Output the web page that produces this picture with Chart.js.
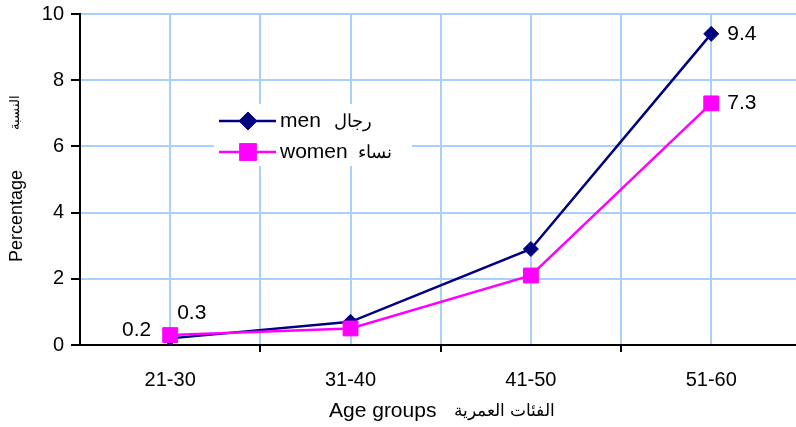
<!DOCTYPE html>
<html>
<head>
<meta charset="utf-8">
<script src="https://cdn.jsdelivr.net/npm/chart.js@4.4.1/dist/chart.umd.min.js"></script>
<style>
  html, body { margin: 0; padding: 0; background: #fff; overflow: hidden; }
  #wrap { width: 796px; height: 427px; position: relative; }
  #chart { display: block; }
</style>
</head>
<body>
<div id="wrap"><canvas id="chart"></canvas></div>
<script>
// ===== DATA =====
var ageGroups = ['21-30', '31-40', '41-50', '51-60'];
var menValues = [0.2, 0.7, 2.9, 9.4];
var womenValues = [0.3, 0.5, 2.1, 7.3];
var yTicks = [0, 2, 4, 6, 8, 10];
var menName = 'men';
var menArabic = 'رجال';
var womenName = 'women';
var womenArabic = 'نساء';
var xTitleEn = 'Age groups';
var xTitleAr = 'الفئات العمرية';
var yTitleEn = 'Percentage';
var yTitleAr = 'النسبة';

var FONT = 'Arial, "Liberation Sans", sans-serif';
var NAVY = '#000080';
var MAGENTA = '#ff00ff';
var GRID = '#a8d0fb';
var X_MAX = 3.47;

function toPoints(vals) {
  return vals.map(function(v, i) { return { x: i, y: v }; });
}

function noPad(s) {
  s.paddingTop = 0; s.paddingBottom = 0; s.paddingLeft = 0; s.paddingRight = 0;
}

// ===== PLUGINS =====
// value labels on first and last points
var valueLabels = {
  id: 'valueLabels',
  afterDatasetsDraw: function(chart) {
    var ctx = chart.ctx;
    ctx.save();
    ctx.font = '21px ' + FONT;
    ctx.fillStyle = '#000';
    ctx.textBaseline = 'middle';
    chart.data.datasets.forEach(function(ds, di) {
      var meta = chart.getDatasetMeta(di);
      var last = meta.data.length - 1;
      var first = meta.data[0];
      var end = meta.data[last];
      var fv = ds.data[0].y, lv = ds.data[last].y;
      if (ds.key === 'men') {
        ctx.textAlign = 'right';
        ctx.fillText(String(fv), first.x - 19, first.y - 8);
      } else {
        ctx.textAlign = 'left';
        ctx.fillText(String(fv), first.x + 7, first.y - 22);
      }
      ctx.textAlign = 'left';
      ctx.fillText(String(lv), end.x + 16, end.y);
    });
    ctx.restore();
  }
};

// legend box inside the plot + axis titles
var extras = {
  id: 'extras',
  afterDraw: function(chart) {
    var ctx = chart.ctx;
    var a = chart.chartArea;
    ctx.save();

    // legend
    var lx = a.left + 134, ly = a.top + 90;
    ctx.fillStyle = '#fff';
    ctx.fillRect(lx, ly, 198, 62);
    var rows = [
      { ds: 1, en: menName, ar: menArabic, y: ly + 17, gap: 13 },
      { ds: 0, en: womenName, ar: womenArabic, y: ly + 48, gap: 10 }
    ];
    rows.forEach(function(r) {
      var ds = chart.data.datasets[r.ds];
      ctx.strokeStyle = ds.borderColor;
      ctx.lineWidth = 2.5;
      ctx.beginPath();
      ctx.moveTo(lx + 5, r.y);
      ctx.lineTo(lx + 62, r.y);
      ctx.stroke();
      Chart.helpers.drawPoint(ctx, {
        pointStyle: ds.pointStyle, radius: ds.pointRadius, borderWidth: 1, rotation: 0
      }, lx + 34, r.y);
      ctx.fillStyle = ds.pointBackgroundColor;
      ctx.strokeStyle = ds.pointBorderColor;
      ctx.fill();
      ctx.stroke();
      ctx.fillStyle = '#000';
      ctx.textBaseline = 'middle';
      ctx.textAlign = 'left';
      ctx.font = '21px ' + FONT;
      ctx.fillText(r.en, lx + 66, r.y);
      var w = ctx.measureText(r.en).width;
      ctx.font = '18px ' + FONT;
      ctx.fillText(r.ar, lx + 66 + w + r.gap, r.y + 1);
    });

    // x title
    ctx.fillStyle = '#000';
    ctx.textBaseline = 'middle';
    ctx.textAlign = 'left';
    ctx.font = '21px ' + FONT;
    ctx.fillText(xTitleEn, 329, 411);
    var xw = ctx.measureText(xTitleEn).width;
    ctx.font = '17px ' + FONT;
    ctx.fillText(xTitleAr, 329 + xw + 18, 411);

    // y title (rotated)
    ctx.translate(17, 262);
    ctx.rotate(-Math.PI / 2);
    ctx.font = '18px ' + FONT;
    ctx.fillText(yTitleEn, 0, 0);
    ctx.font = '13px ' + FONT;
    ctx.fillText(yTitleAr, 132, -2);
    ctx.restore();
  }
};

// ===== CHART =====
var chart = new Chart(document.getElementById('chart'), {
  type: 'line',
  data: {
    datasets: [
      {
        key: 'women',
        label: womenName,
        data: toPoints(womenValues),
        borderColor: MAGENTA,
        backgroundColor: MAGENTA,
        borderWidth: 2.5,
        pointStyle: 'rect',
        pointRadius: 10.5,
        pointBackgroundColor: MAGENTA,
        pointBorderColor: MAGENTA,
        pointBorderWidth: 1,
        tension: 0,
        clip: false,
        order: 0
      },
      {
        key: 'men',
        label: menName,
        data: toPoints(menValues),
        borderColor: NAVY,
        backgroundColor: NAVY,
        borderWidth: 2.5,
        pointStyle: 'rectRot',
        pointRadius: 7.5,
        pointBackgroundColor: NAVY,
        pointBorderColor: NAVY,
        pointBorderWidth: 1,
        tension: 0,
        clip: false,
        order: 1
      }
    ]
  },
  options: {
    responsive: true,
    maintainAspectRatio: false,
    animation: false,
    events: [],
    layout: { autoPadding: false, padding: { top: 14, right: 0, left: 0, bottom: 0 } },
    plugins: {
      legend: { display: false },
      tooltip: { enabled: false }
    },
    scales: {
      x: {
        type: 'linear',
        min: -0.5,
        max: X_MAX,
        afterBuildTicks: function(s) {
          var t = [];
          for (var v = -0.5; v <= X_MAX; v += 0.5) t.push({ value: v });
          s.ticks = t;
        },
        afterFit: function(s) { s.height = 82; noPad(s); },
        border: { color: '#000', width: 2 },
        grid: {
          color: function(c) { return c.tick && c.tick.value === -0.5 ? 'rgba(0,0,0,0)' : GRID; },
          lineWidth: 2,
          tickLength: 7,
          tickWidth: 2,
          tickColor: function(c) {
            var v = c.tick ? c.tick.value : 0;
            return (Math.round(v * 2) % 2 !== 0 && v > -0.5) ? '#000' : 'rgba(0,0,0,0)';
          }
        },
        ticks: {
          autoSkip: false,
          maxRotation: 0,
          padding: 16,
          color: '#000',
          font: { size: 20, family: FONT },
          callback: function(v) {
            return Number.isInteger(v) ? ageGroups[v] : '';
          }
        }
      },
      y: {
        min: 0,
        max: 10,
        afterBuildTicks: function(s) {
          s.ticks = yTicks.map(function(v) { return { value: v }; });
        },
        afterFit: function(s) { s.width = 80; noPad(s); },
        border: { color: '#000', width: 2 },
        grid: {
          color: function(c) { return c.tick && c.tick.value === 0 ? 'rgba(0,0,0,0)' : GRID; },
          lineWidth: 2,
          tickLength: 9,
          tickWidth: 2,
          tickColor: '#000'
        },
        ticks: {
          padding: 7,
          color: '#000',
          font: { size: 20, family: FONT }
        }
      }
    }
  },
  plugins: [valueLabels, extras]
});
</script>
</body>
</html>
